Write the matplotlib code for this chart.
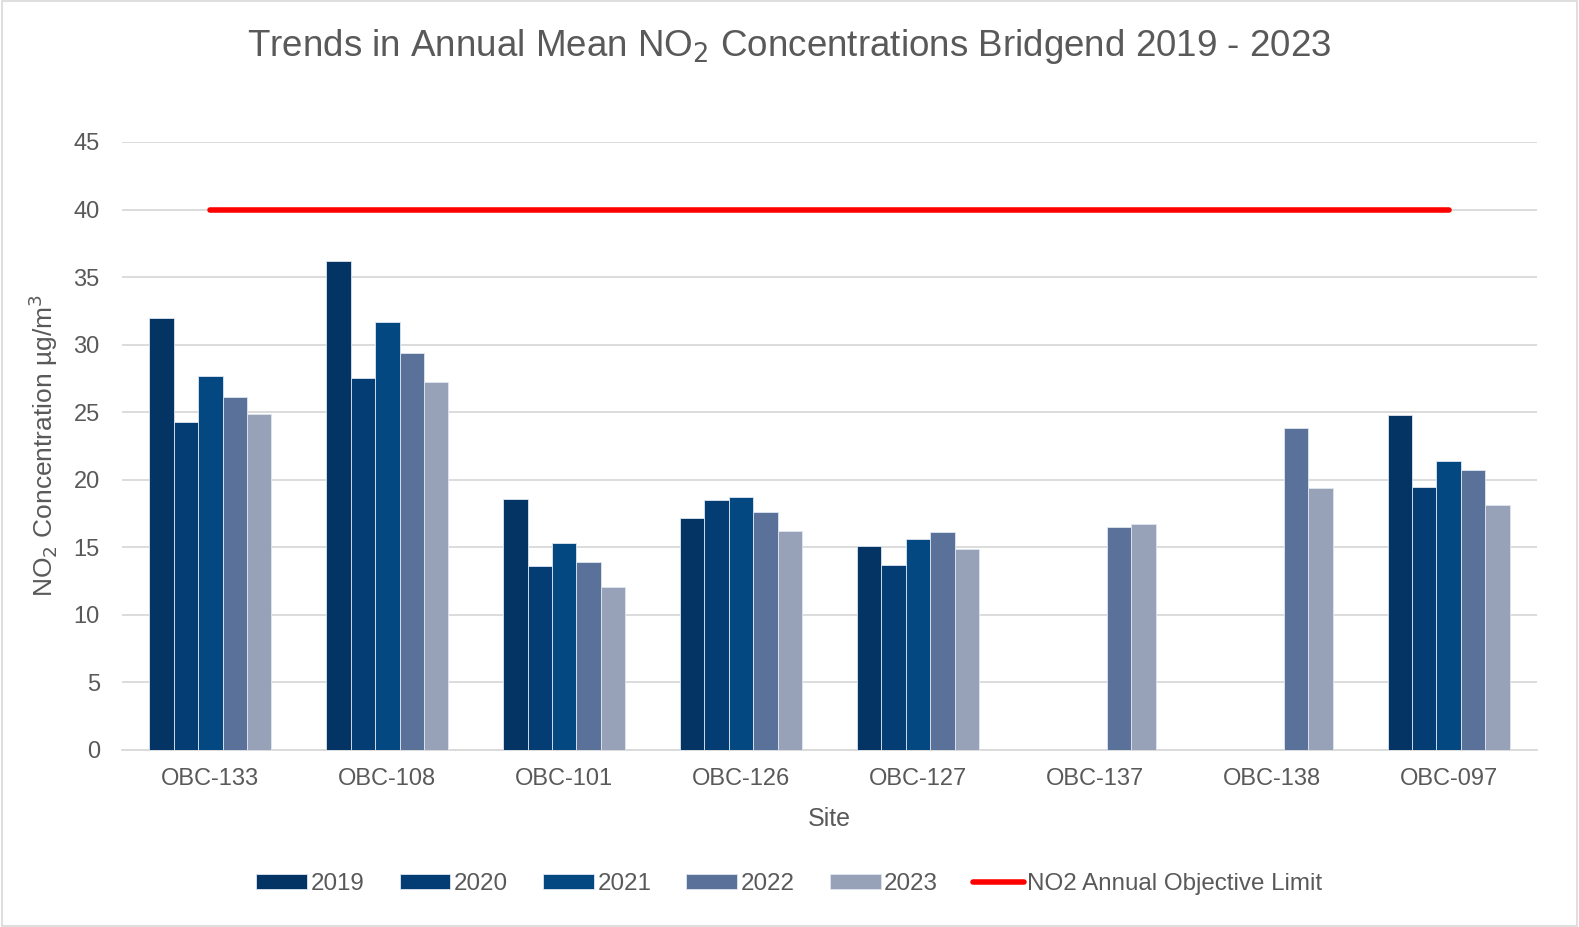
import numpy as np
import matplotlib.pyplot as plt

plt.rcParams['font.family'] = ['Liberation Sans', 'DejaVu Sans']

sites = ["OBC-133", "OBC-108", "OBC-101", "OBC-126", "OBC-127", "OBC-137", "OBC-138", "OBC-097"]
years = ["2019", "2020", "2021", "2022", "2023"]
nan = np.nan
no2_2019 = [32.0, 36.2, 18.6, 17.2, 15.1, nan, nan, 24.8]
no2_2020 = [24.3, 27.5, 13.6, 18.5, 13.7, nan, nan, 19.5]
no2_2021 = [27.7, 31.7, 15.3, 18.7, 15.6, nan, nan, 21.4]
no2_2022 = [26.1, 29.4, 13.9, 17.6, 16.1, 16.5, 23.8, 20.7]
no2_2023 = [24.9, 27.2, 12.1, 16.2, 14.9, 16.7, 19.4, 18.1]
limit = 40

series = [no2_2019, no2_2020, no2_2021, no2_2022, no2_2023]
colors = ["#033463", "#033d73", "#044882", "#5a7199", "#97a1b8"]

fig = plt.figure(figsize=(15.79, 9.27), dpi=100)
ax = fig.add_axes([122 / 1579, 1 - 750 / 927, 1415 / 1579, 608 / 927])

x = np.arange(len(sites))
w = 0.138
for i, (vals, c, yr) in enumerate(zip(series, colors, years)):
    ax.bar(x + (i - 2) * w, vals, w, color=c, edgecolor="#dfe6f0", linewidth=0.6,
           label=yr, zorder=3)

ax.plot([x[0], x[-1]], [limit, limit], color="#ff0000", lw=4,
        solid_capstyle="round", label="NO2 Annual Objective Limit", zorder=4)

ax.set_xlim(-0.5, len(sites) - 0.5)
ax.set_ylim(0, 45)
ax.set_yticks(range(0, 46, 5))
ax.set_xticks(x)
ax.set_xticklabels(sites)
ax.yaxis.grid(True, color="#d9d9d9", lw=1.3, zorder=0)
for s in ["top", "right", "left"]:
    ax.spines[s].set_visible(False)
ax.spines["bottom"].set_color("#d9d9d9")
ax.spines["bottom"].set_linewidth(1.3)
ax.tick_params(axis="both", length=0, labelsize=17, labelcolor="#595959")
ax.tick_params(axis="x", pad=13)
ax.tick_params(axis="y", pad=16)

ax.set_xlabel("Site", fontsize=18, color="#595959", labelpad=12)
ax.set_ylabel("NO$_2$ Concentration µg/m$^3$", fontsize=19, color="#595959", labelpad=10)

fig.text(0.5, 1 - 47 / 927, "Trends in Annual Mean NO$_2$ Concentrations Bridgend 2019 - 2023",
         ha="center", va="center", fontsize=26.5, color="#595959")

handles, labels = ax.get_legend_handles_labels()
# line first in the handle list; move it to the end like the original
handles = handles[1:] + handles[:1]
labels = labels[1:] + labels[:1]
leg = fig.legend(handles, labels, loc="center", bbox_to_anchor=(0.5, 1 - 884 / 927), ncol=6,
                 frameon=False, fontsize=17.4, handlelength=2.1, handleheight=0.6,
                 columnspacing=1.45, handletextpad=0.15, labelcolor="#595959")

border = plt.Rectangle((0.001, 0.001), 0.998, 0.998, transform=fig.transFigure,
                       fill=False, edgecolor="#d9d9d9", lw=1.2)
fig.patches.append(border)

fig.savefig("out.png", dpi=100)
